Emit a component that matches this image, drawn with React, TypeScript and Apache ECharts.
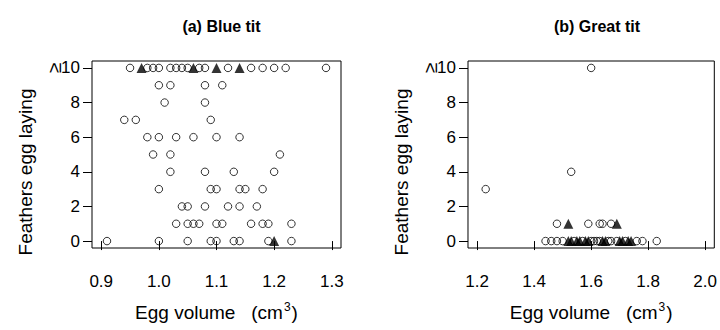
import React, { useEffect, useRef } from "react";
import * as echarts from "echarts";

// Blue tit (a)
const blueCircles: [number, number][] = [
  [0.95, 10], [0.98, 10], [0.99, 10], [1.0, 10], [1.02, 10], [1.03, 10], [1.04, 10], [1.05, 10],
  [1.07, 10], [1.08, 10], [1.12, 10], [1.16, 10], [1.18, 10], [1.2, 10], [1.22, 10], [1.29, 10],
  [1.0, 9], [1.02, 9], [1.08, 9], [1.11, 9],
  [1.01, 8], [1.08, 8],
  [0.94, 7], [0.96, 7], [1.09, 7],
  [0.98, 6], [1.0, 6], [1.03, 6], [1.06, 6], [1.1, 6], [1.14, 6],
  [0.99, 5], [1.02, 5], [1.21, 5],
  [1.02, 4], [1.08, 4], [1.13, 4], [1.2, 4],
  [1.0, 3], [1.09, 3], [1.1, 3], [1.14, 3], [1.15, 3], [1.18, 3],
  [1.04, 2], [1.05, 2], [1.08, 2], [1.12, 2], [1.14, 2], [1.17, 2],
  [1.03, 1], [1.05, 1], [1.06, 1], [1.07, 1], [1.1, 1], [1.11, 1], [1.16, 1], [1.18, 1], [1.19, 1], [1.23, 1],
  [0.91, 0], [1.0, 0], [1.05, 0], [1.09, 0], [1.1, 0], [1.13, 0], [1.14, 0], [1.19, 0], [1.23, 0],
];
const blueTriangles: [number, number][] = [
  [0.97, 10], [1.06, 10], [1.1, 10], [1.14, 10], [1.2, 0],
];

// Great tit (b)
const greatCircles: [number, number][] = [
  [1.6, 10], [1.53, 4], [1.23, 3],
  [1.48, 1], [1.59, 1], [1.63, 1], [1.64, 1], [1.67, 1],
  [1.44, 0], [1.46, 0], [1.48, 0], [1.5, 0], [1.54, 0], [1.57, 0], [1.6, 0], [1.61, 0], [1.62, 0],
  [1.63, 0], [1.66, 0], [1.67, 0], [1.69, 0], [1.72, 0], [1.76, 0], [1.78, 0], [1.83, 0],
];
const greatTriangles: [number, number][] = [
  [1.52, 1], [1.69, 1],
  [1.52, 0], [1.53, 0], [1.55, 0], [1.56, 0], [1.58, 0], [1.59, 0], [1.64, 0], [1.65, 0],
  [1.7, 0], [1.71, 0], [1.73, 0], [1.74, 0],
];

const panelTitles = ["(a) Blue tit", "(b) Great tit"];
const blueXTicks = [0.9, 1.0, 1.1, 1.2, 1.3];
const greatXTicks = [1.2, 1.4, 1.6, 1.8, 2.0];
const yTicks = [0, 2, 4, 6, 8, 10];
const xTitle = "Egg volume";
const yTitle = "Feathers egg laying";

const FONT = "'Liberation Sans', Arial, sans-serif";

export default function App() {
  const ref = useRef<HTMLDivElement>(null);
  useEffect(() => {
    if (!ref.current) return;
    const chart = echarts.init(ref.current, null, { renderer: "svg" });
    const grids = [
      { left: 92, top: 61, width: 249, height: 187 },
      { left: 468, top: 61, width: 248, height: 187 },
    ];
    const xRanges = [
      { min: 0.884, max: 1.316, ticks: blueXTicks },
      { min: 1.168, max: 2.032, ticks: greatXTicks },
    ];
    const xAxes = xRanges.map((r, i) => ({
      type: "value" as const,
      gridIndex: i,
      min: r.min,
      max: r.max,
      splitLine: { show: false },
      axisLine: { show: false },
      axisTick: { show: true, inside: false, length: 9, customValues: r.ticks, lineStyle: { color: "#000", width: 1 } },
      axisLabel: {
        customValues: r.ticks,
        formatter: (v: number) => v.toFixed(1),
        margin: 25,
        color: "#000",
        fontSize: 17,
        fontFamily: FONT,
      },
      name: `{a|${xTitle}   (cm}{s|3}{a|)}`,
      nameLocation: "middle" as const,
      nameGap: 53,
      nameTextStyle: {
        rich: {
          a: { fontSize: 19, fontFamily: FONT, color: "#000" },
          s: { fontSize: 12, fontFamily: FONT, color: "#000", padding: [0, 1, 11, 1] },
        },
      },
    }));
    const yAxes = [0, 1].map((i) => ({
      type: "value" as const,
      gridIndex: i,
      min: -0.4,
      max: 10.4,
      splitLine: { show: false },
      axisLine: { show: false },
      axisTick: { show: true, inside: false, length: 9, customValues: yTicks, lineStyle: { color: "#000", width: 1 } },
      axisLabel: {
        customValues: yTicks,
        margin: 12,
        color: "#000",
        fontSize: 17,
        fontFamily: FONT,
      },
    }));
    const circleStyle = { color: "rgba(0,0,0,0)", borderColor: "#000", borderWidth: 1 };
    const triStyle = { color: "#000" };
    const series = [
      { data: blueCircles, x: 0, tri: false },
      { data: blueTriangles, x: 0, tri: true },
      { data: greatCircles, x: 1, tri: false },
      { data: greatTriangles, x: 1, tri: true },
    ].map((s) => ({
      type: "scatter" as const,
      xAxisIndex: s.x,
      yAxisIndex: s.x,
      data: s.data,
      symbol: s.tri ? "triangle" : "circle",
      symbolSize: s.tri ? 10 : 7.5,
      itemStyle: s.tri ? triStyle : circleStyle,
      silent: true,
    }));
    const yTitleX = [25, 401];
    const geX = [54, 430];
    chart.setOption({
      animation: false,
      backgroundColor: "#fff",
      title: panelTitles.map((t, i) => ({
        text: t,
        left: grids[i].left + grids[i].width / 2,
        top: 13,
        textAlign: "center",
        textStyle: { fontSize: 16, fontWeight: "bold", fontFamily: FONT, color: "#000" },
      })),
      grid: grids.map((g) => ({ ...g, show: true, borderColor: "#000", borderWidth: 1, backgroundColor: "transparent" })),
      xAxis: xAxes,
      yAxis: yAxes,
      series,
      graphic: [0, 1].flatMap((i) => [
        {
          type: "text",
          x: yTitleX[i],
          y: 172,
          rotation: Math.PI / 2,
          style: { text: yTitle, fontSize: 19, fontFamily: FONT, fill: "#000", align: "center", verticalAlign: "middle" },
        },
        {
          type: "text",
          x: geX[i],
          y: 68,
          rotation: Math.PI / 2,
          style: { text: "≥", fontSize: 19, fontFamily: FONT, fill: "#000", align: "center", verticalAlign: "middle" },
        },
      ]),
    });
    return () => chart.dispose();
  }, []);
  return <div ref={ref} style={{ width: 720, height: 330, position: "absolute", left: 0, top: 0 }} />;
}
